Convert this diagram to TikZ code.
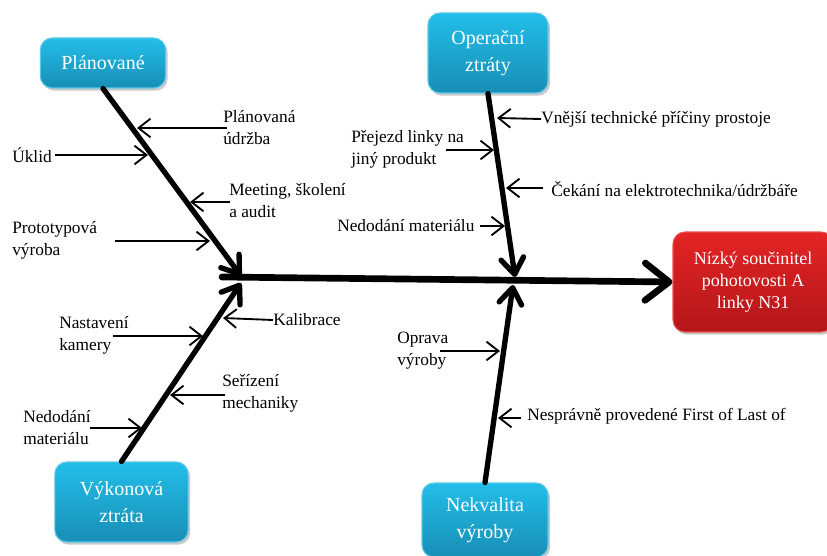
\documentclass[tikz,border=0pt]{standalone}
\usepackage{fontspec}
\setmainfont{Liberation Serif}
\usetikzlibrary{arrows.meta,shadows}

\definecolor{cyantop}{RGB}{34,190,232}
\definecolor{cyanbot}{RGB}{24,142,182}
\definecolor{cyanedge}{RGB}{90,200,235}
\definecolor{redtop}{RGB}{228,36,36}
\definecolor{redbot}{RGB}{178,22,26}
\definecolor{rededge}{RGB}{235,80,80}

\tikzset{
  catbox/.style={rounded corners=9pt, draw=cyanedge, line width=0.8pt,
    top color=cyantop, bottom color=cyanbot, text=white, align=center,
    font=\fontsize{15}{20}\selectfont, inner sep=0pt,
    drop shadow={shadow xshift=1.5pt, shadow yshift=-2pt, opacity=0.35, fill=black!60}},
  effbox/.style={catbox, draw=rededge, top color=redtop, bottom color=redbot,
    font=\fontsize{13.5}{16.5}\selectfont},
  lbl/.style={align=left, inner sep=0pt, font=\fontsize{13}{16.5}\selectfont},
  spine/.style={line width=5pt, line cap=round,
    -{Straight Barb[length=18pt, width=28pt, round]}},
  bone/.style={line width=4pt, line cap=round,
    -{Straight Barb[length=12pt, width=17pt, round]}},
  twig/.style={line width=1.4pt,
    -{Straight Barb[length=9pt, width=14pt]}},
}

\begin{document}
\begin{tikzpicture}[x=0.75pt, y=-0.75pt]
\useasboundingbox (0,0) rectangle (827,556);

% category boxes and the effect
\node[catbox, minimum width=94pt, minimum height=37.5pt] (plan) at (103,63) {Plánované};
\node[catbox, minimum width=90pt, minimum height=60pt] (oper) at (488,53) {Operační\\ztráty};
\node[catbox, minimum width=100pt, minimum height=60pt] (vyk) at (121.5,502) {Výkonová\\ztráta};
\node[catbox, minimum width=94.5pt, minimum height=55.5pt] (nek) at (485,520) {Nekvalita\\výroby};
\node[effbox, minimum width=120pt, minimum height=75pt] (eff) at (753,282) {Nízký součinitel\\pohotovosti A\\linky N31};

% spine and bones
\coordinate (sL) at (222,277);
\coordinate (jPlan) at (241,276);
\coordinate (jOper) at (515,277);
\coordinate (jVyk) at (241,283);
\coordinate (jNek) at (513,285);

\draw[spine] (sL) -- (eff.west);
\draw[bone] (plan.south) -- (jPlan);
\draw[bone] (oper.south) -- (jOper);
\draw[bone] (vyk.north) -- (jVyk);
\draw[bone] (nek.north) -- (jNek);

% causes: Plánované
\node[lbl, anchor=west] (c1) at (223,128) {Plánovaná\\údržba};
\coordinate (c1t) at (227,128); \coordinate (c1h) at (137,128);
\draw[twig] (c1t) -- (c1h);

\node[lbl, anchor=west] (c2) at (12,155) {Úklid};
\coordinate (c2h) at (148,155);
\draw[twig] (c2.east) ++(3,0) coordinate (c2t) (c2t) -- (c2h);

\node[lbl, anchor=west] (c3) at (229,201) {Meeting, školení\\a audit};
\coordinate (c3t) at (230,202); \coordinate (c3h) at (190,202);
\draw[twig] (c3t) -- (c3h);

\node[lbl, anchor=west] (c4) at (12,240) {Prototypová\\výroba};
\coordinate (c4t) at (115,241); \coordinate (c4h) at (210,241);
\draw[twig] (c4t) -- (c4h);

% causes: Operační ztráty
\node[lbl, anchor=west] (c5) at (541,119) {Vnější technické příčiny prostoje};
\coordinate (c5h) at (497,118);
\draw[twig] (c5.west) -- (c5h);

\node[lbl, anchor=west] (c6) at (351,149) {Přejezd linky na\\jiný produkt};
\coordinate (c6t) at (446,150); \coordinate (c6h) at (494,150);
\draw[twig] (c6t) -- (c6h);

\node[lbl, anchor=west] (c7) at (551,189) {Čekání na elektrotechnika/údržbáře};
\coordinate (c7t) at (543,188); \coordinate (c7h) at (506,188);
\draw[twig] (c7t) -- (c7h);

\node[lbl, anchor=west] (c8) at (337,226) {Nedodání materiálu};
\coordinate (c8t) at (480,226); \coordinate (c8h) at (505,226);
\draw[twig] (c8t) -- (c8h);

% causes: Výkonová ztráta
\node[lbl, anchor=west] (c9) at (273,320) {Kalibrace};
\coordinate (c9h) at (223,318);
\draw[twig] (c9.west) -- (c9h);

\node[lbl, anchor=west] (c10) at (59,335) {Nastavení\\kamery};
\coordinate (c10t) at (113,336); \coordinate (c10h) at (203,336);
\draw[twig] (c10t) -- (c10h);

\node[lbl, anchor=west] (c11) at (222,393.5) {Seřízení\\mechaniky};
\coordinate (c11t) at (225,395); \coordinate (c11h) at (170,395);
\draw[twig] (c11t) -- (c11h);

\node[lbl, anchor=west] (c12) at (23,428) {Nedodání\\materiálu};
\coordinate (c12t) at (90,428); \coordinate (c12h) at (142,428);
\draw[twig] (c12t) -- (c12h);

% causes: Nekvalita výroby
\node[lbl, anchor=west] (c13) at (397,351) {Oprava\\výroby};
\coordinate (c13t) at (440,351); \coordinate (c13h) at (500,351);
\draw[twig] (c13t) -- (c13h);

\node[lbl, anchor=west] (c14) at (527,416) {Nesprávně provedené First of Last of};
\coordinate (c14t) at (521,418); \coordinate (c14h) at (498,418);
\draw[twig] (c14t) -- (c14h);
\end{tikzpicture}
\end{document}
